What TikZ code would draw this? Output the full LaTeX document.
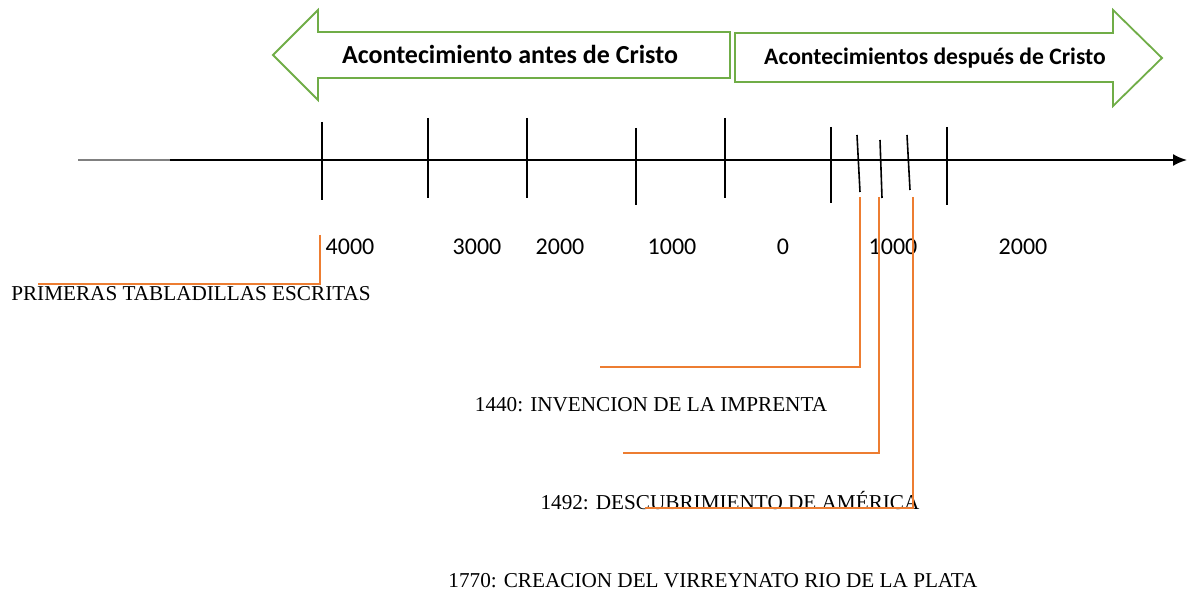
\documentclass[tikz,border=0pt]{standalone}
\usepackage{fontspec}
\setmainfont{Liberation Serif}
\setsansfont{Carlito}
\usetikzlibrary{arrows.meta}
\definecolor{lgreen}{RGB}{112,173,71}
\definecolor{lorange}{RGB}{237,125,49}
\begin{document}
\begin{tikzpicture}[x=0.5pt,y=-0.5pt,
        asty/.style={draw=lgreen,line width=0.9pt,fill=white,line join=miter},
        tsty/.style={font=\sffamily\bfseries\fontsize{13}{15}\selectfont},
        ksty/.style={line width=0.8pt},
        nsty/.style={font=\sffamily\fontsize{12}{14}\selectfont},
        osty/.style={draw=lorange,line width=0.8pt},
        esty/.style={font=\fontsize{10.6}{12}\selectfont,inner sep=0pt},
    ]
    \useasboundingbox (0,0) rectangle (1194,593);
    % big arrows
    \draw[asty] (730,32) -- (318,32) -- (318,10) -- (273,55) -- (318,100)
        -- (318,78) -- (730,78) -- cycle;
    \draw[asty] (735,33) -- (1113,33) -- (1113,10) -- (1162,58) -- (1113,106)
        -- (1113,82) -- (735,82) -- cycle;
    \node (ac) at (510,54) [tsty] {Acontecimiento antes de Cristo};
    \node (dc) at (935,58) [tsty,font=\sffamily\bfseries\fontsize{11.8}{13}\selectfont]
        {Acontecimientos después de Cristo};
    % axis
    \coordinate (a0) at (78,160);
    \coordinate (a1) at (1187,160);
    \draw[line width=1pt,-{Latex[length=7pt,width=6pt]}] (a0) -- (a1);
    \draw[line width=1pt,gray] (a0) -- (170,160);
    \foreach \x/\t/\b in {322/122/200,428/118/198,527/118/198,636/128/205,
        725/118/198,831/127/203,947/127/205}{
        \draw[ksty] (\x,\t) -- (\x,\b);
    }
    \draw[ksty] (857,135) -- (860,192) coordinate (k1);
    \draw[ksty] (880,140) -- (882,198) coordinate (k2);
    \draw[ksty] (907,135) -- (910,190) coordinate (k3);
    \foreach \x/\l in {350/4000,477/3000,560/2000,672/1000,783/0,893/1000,1023/2000}{
        \node (y\x) at (\x,247) [nsty] {\l};
    }
    % events
    \node (e0) at (191,294) [esty] {PRIMERAS TABLADILLAS ESCRITAS};
    \node (e1) at (651,405) [esty] {1440: INVENCION DE LA IMPRENTA};
    \node (e2) at (730,501) [esty] {1492: DESCUBRIMIENTO DE AMÉRICA};
    \node (e3) at (713,581) [esty] {1770: CREACION DEL VIRREYNATO RIO DE LA PLATA};
    \coordinate (o0) at (320,235);
    \coordinate (o1) at (860,197);
    \coordinate (o2) at (879,197);
    \coordinate (o3) at (913,197);
    \draw[osty] (o0) |- (38,284);
    \draw[osty] (o1) |- (600,367);
    \draw[osty] (o2) |- (623,453);
    \draw[osty] (o3) |- (645,508);
\end{tikzpicture}
\end{document}
